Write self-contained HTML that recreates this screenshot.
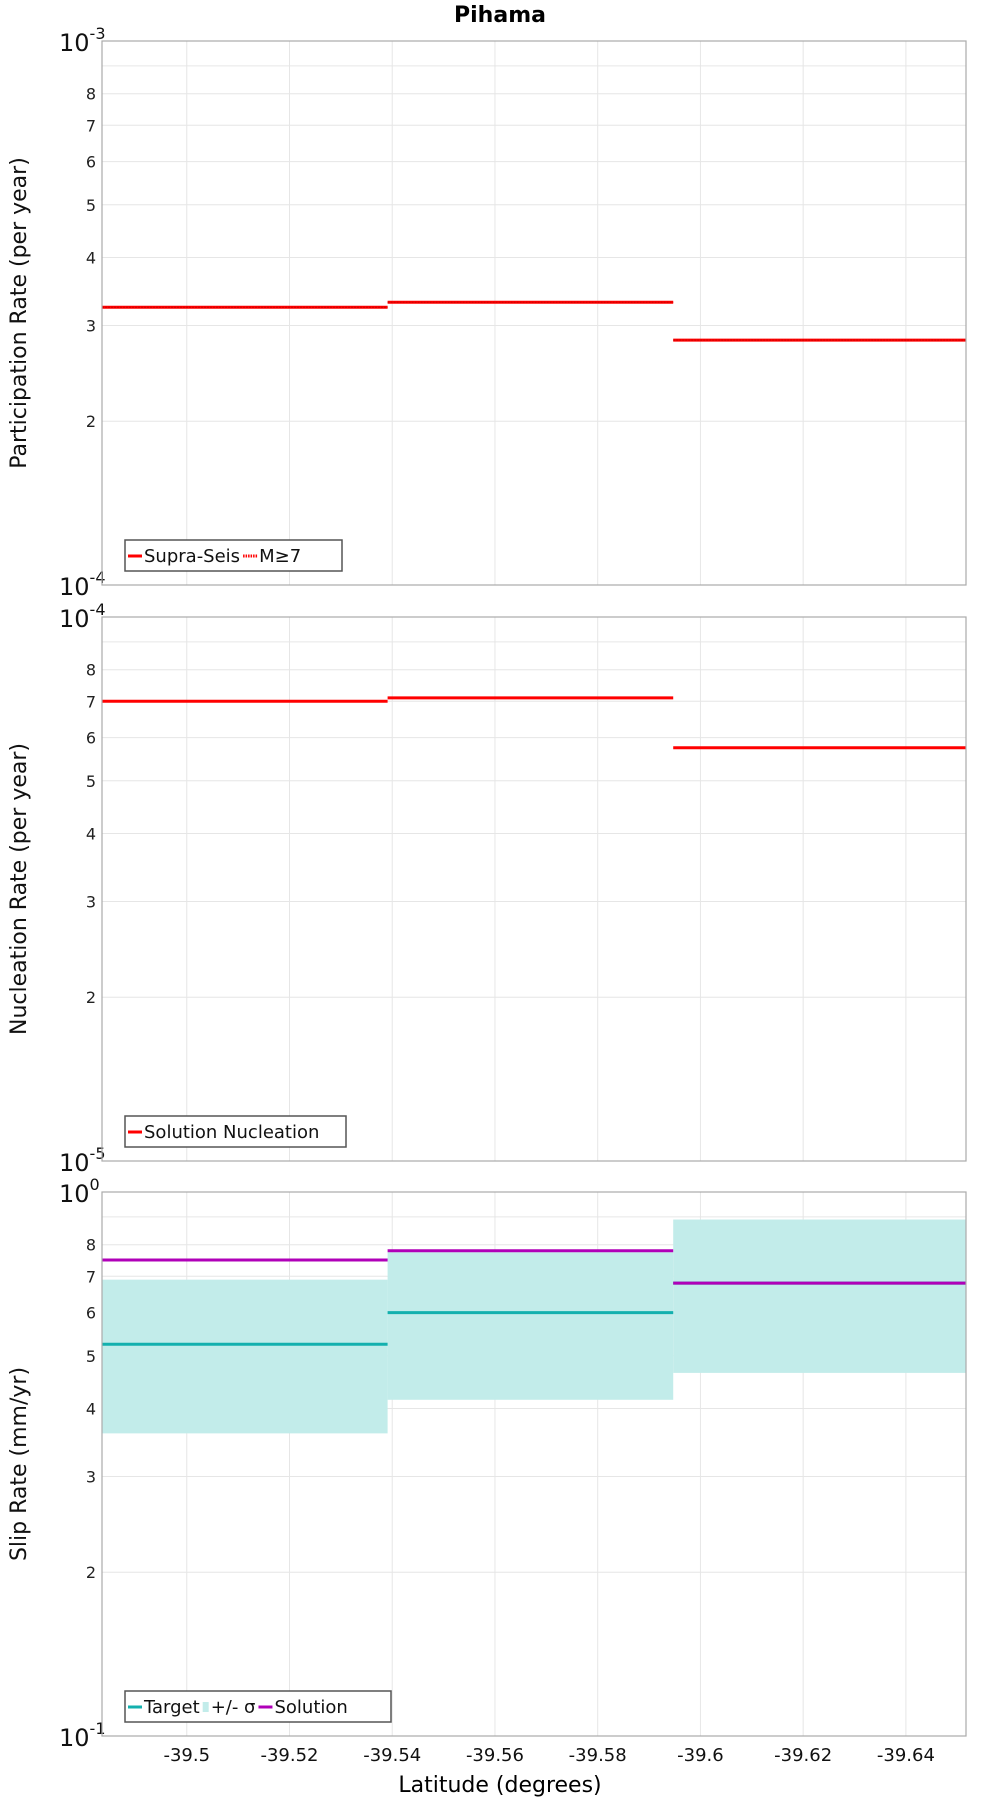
<!DOCTYPE html>
<html><head><meta charset="utf-8"><style>
html,body{margin:0;padding:0;background:#fff;}
svg{display:block;font-family:"DejaVu Sans","Liberation Sans",sans-serif;}
</style></head><body>
<svg id="chart" width="1000" height="1800" xmlns="http://www.w3.org/2000/svg">
<text x="500" y="22" text-anchor="middle" font-weight="bold" font-size="22">Pihama</text>
<text x="500" y="1792" text-anchor="middle" font-size="22">Latitude (degrees)</text>
</svg>
<script>
const xTicks = [-39.5,-39.52,-39.54,-39.56,-39.58,-39.6,-39.62,-39.64];
const xTickLabels = ["-39.5","-39.52","-39.54","-39.56","-39.58","-39.6","-39.62","-39.64"];
const xDomain = [-39.4835,-39.6517];
const binEdges = [-39.4835,-39.5391,-39.5947,-39.6517];
const partSupra = [3.24e-4,3.31e-4,2.82e-4];
const partM7 = [3.24e-4,3.31e-4,2.82e-4];
const nucl = [7.0e-5,7.1e-5,5.75e-5];
const slipTarget = [0.525,0.60,0.68];
const slipLow = [0.36,0.415,0.465];
const slipHigh = [0.69,0.775,0.89];
const slipSolution = [0.75,0.78,0.68];
const mantissaLabels = ["2","3","4","5","6","7","8"];

const NS="http://www.w3.org/2000/svg";
const svg=document.getElementById('chart');
const L=102,R=966;
function xs(v){return L+(v-xDomain[0])/(xDomain[1]-xDomain[0])*(R-L);}
function mk(tag,attrs,parent){const e=document.createElementNS(NS,tag);for(const k in attrs)e.setAttribute(k,attrs[k]);(parent||svg).appendChild(e);return e;}

const panels=[
 {top:41,bot:585,lo:-4,title:"Participation Rate (per year)",name:"participation"},
 {top:617,bot:1161,lo:-5,title:"Nucleation Rate (per year)",name:"nucleation"},
 {top:1192,bot:1736,lo:-1,title:"Slip Rate (mm/yr)",name:"slip"}
];
panels.forEach((p,pi)=>{
 const g=mk('g',{});
 
 
 const ys=v=>p.bot-(Math.log10(v)-p.lo)*(p.bot-p.top);
 for(let m=2;m<=9;m++){
  const y=ys(m*Math.pow(10,p.lo));
  const gl=mk('line',{x1:L,x2:R,y1:y,y2:y,stroke:'#e6e6e6','stroke-width':1},g);
  
  
  if(m<=8){const t=mk('text',{x:96,y:y+6,'text-anchor':'end','font-size':16,fill:'#222'},g);t.textContent=mantissaLabels[m-2];
   
   }
 }
 xTicks.forEach(v=>{const x=xs(v);const vl=mk('line',{x1:x,x2:x,y1:p.top,y2:p.bot,stroke:'#e6e6e6','stroke-width':1},g);
  
  });
 [[p.lo+1,p.top],[p.lo,p.bot]].forEach(([e,y])=>{
  const t=mk('text',{x:59,y:y+10,'font-size':24,fill:'#111'},g);
  t.innerHTML='10<tspan dy="-12" font-size="16">'+e+'</tspan>';
  
  
 });
 const cy=(p.top+p.bot)/2;
 const yt=mk('text',{x:0,y:0,transform:`translate(26,${cy}) rotate(-90)`,'text-anchor':'middle','font-size':22,fill:'#111'},g);
 yt.textContent=p.title;
 
 
 function seg(vals,color,w,dash,nm){
  vals.forEach((v,i)=>{const y=ys(v);
   const l=mk('line',{x1:xs(binEdges[i]),x2:xs(binEdges[i+1]),y1:y,y2:y,stroke:color,'stroke-width':w},g);
   if(dash)l.setAttribute('stroke-dasharray',dash);
   
   });
 }
 if(pi===0){seg(partSupra,'#ff0000',3,null,'supra-seis-line');seg(partM7,'#cc0000',1,'2,1','m7-line');}
 if(pi===1){seg(nucl,'#ff0000',3,null,'nucleation-line');}
 if(pi===2){
  slipLow.forEach((v,i)=>{const y1=ys(slipHigh[i]),y2=ys(v);
   const r=mk('rect',{x:xs(binEdges[i]),y:y1,width:xs(binEdges[i+1])-xs(binEdges[i]),height:y2-y1,fill:'#c2ecea'},g);
   
   });
  seg(slipTarget,'#13b0ae',3,null,'target-line');
  seg(slipSolution,'#b000b8',3,null,'solution-line');
 }
 const fr=mk('rect',{x:L,y:p.top,width:R-L,height:p.bot-p.top,fill:'none',stroke:'#aaa','stroke-width':1.2},g);
 
 
 const lg=mk('g',{},g);
 
 
 const ly=p.bot-45;
 let items;
 if(pi===0)items=[['Supra-Seis','#ff0000','line'],['M≥7','#ff0000','dot']];
 else if(pi===1)items=[['Solution Nucleation','#ff0000','line']];
 else items=[['Target','#13b0ae','line'],['+/- σ','#c2ecea','box'],['Solution','#b000b8','line']];
 const widths=pi===0?[217]:pi===1?[221]:[266];
 mk('rect',{x:125,y:ly,width:widths[0],height:31,fill:'#fff',stroke:'#555','stroke-width':1.5},lg);
 let x=128;
 items.forEach(it=>{
  if(it[2]==='box'){mk('rect',{x:x,y:ly+11,width:6,height:10,fill:it[1]},lg);x+=8;}
  else{const l=mk('line',{x1:x,x2:x+14,y1:ly+16,y2:ly+16,stroke:it[1],'stroke-width':3},lg);if(it[2]==='dot')l.setAttribute('stroke-dasharray','1.5,1');x+=16;}
  const t=mk('text',{x:x,y:ly+22,'font-size':18,fill:'#111'},lg);t.textContent=it[0];
  
  
  x+=t.getComputedTextLength()+3;
 });
});
xTicks.forEach((v,i)=>{const t=mk('text',{x:xs(v),y:1761,'text-anchor':'middle','font-size':18,fill:'#111'});t.textContent=xTickLabels[i];
 
 });
</script>
</body></html>
